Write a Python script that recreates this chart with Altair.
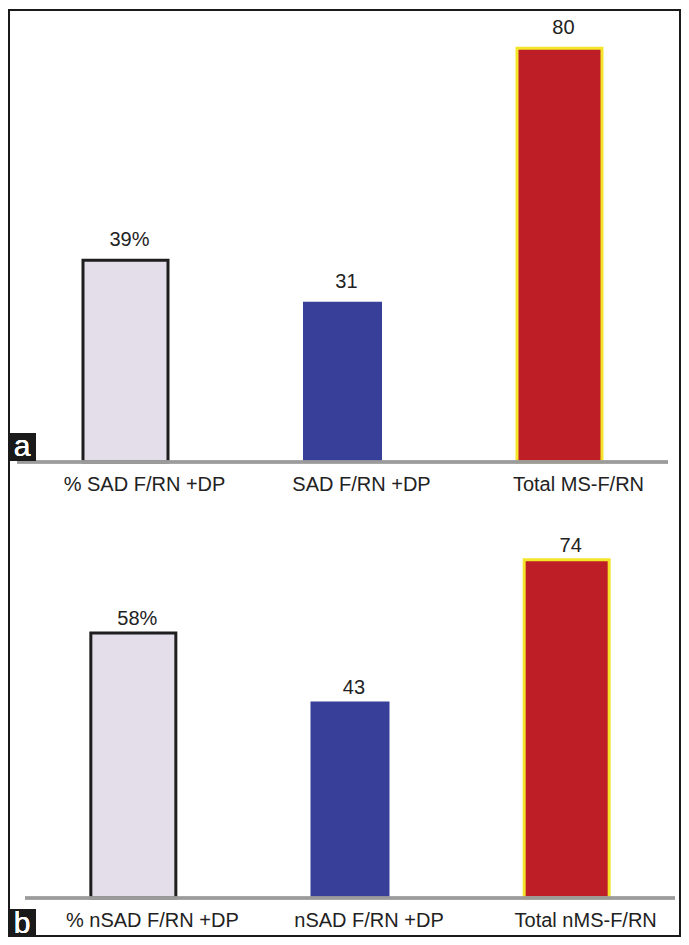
import altair as alt
import pandas as pd

# ---- data ----
cats_a = ["% SAD F/RN +DP", "SAD F/RN +DP", "Total MS-F/RN"]
vals_a = [39, 31, 80]
text_a = ["39%", "31", "80"]

cats_b = ["% nSAD F/RN +DP", "nSAD F/RN +DP", "Total nMS-F/RN"]
vals_b = [58, 43, 74]
text_b = ["58%", "43", "74"]

FILLS = ["#E3DEEA", "#373F98", "#BE1E26"]
STROKES = ["#1E1E1E", "#373F98", "#F5E52A"]
FONT = "Liberation Sans"
INK = "#222222"
W = 658
GAP = 54


def panel(cats, vals, texts, letter, height, ymax, pad_outer, align, base_x,
          fr, box, letter_pos, label_dy):
    df = pd.DataFrame({"cat": cats, "val": vals, "txt": texts})
    base = alt.Chart(df)
    x = alt.X(
        "cat:N",
        scale=alt.Scale(domain=cats, paddingInner=0, paddingOuter=pad_outer, align=align),
        axis=alt.Axis(
            title=None, ticks=False, domain=False,
            labelAngle=0, labelFont=FONT, labelFontSize=20, labelColor=INK,
            labelPadding=12, labelOffset=19,
        ),
    )
    y = alt.Y("val:Q", scale=alt.Scale(domain=[0, ymax], nice=False, zero=True), axis=None)
    fill = alt.Fill("cat:N", scale=alt.Scale(domain=cats, range=FILLS), legend=None)
    stroke = alt.Stroke("cat:N", scale=alt.Scale(domain=cats, range=STROKES), legend=None)

    outlined = base.transform_filter(alt.datum.cat != cats[1]).mark_bar(
        size=85, strokeWidth=3
    ).encode(x=x, y=y, fill=fill, stroke=stroke)
    plain = base.transform_filter(alt.datum.cat == cats[1]).mark_bar(size=79).encode(
        x=x, y=y, fill=fill
    )
    values = base.mark_text(
        font=FONT, fontSize=20, color=INK, baseline="alphabetic", dy=label_dy, dx=4
    ).encode(x=x, y=y, text="txt:N")

    baseline = base.mark_rule(color="#9B9B9B", strokeWidth=3).encode(
        x=alt.value(base_x[0]), x2=alt.value(base_x[1]), y=alt.value(height))

    left, right, top, bottom = fr
    frame_style = dict(color="#1A1A1A", strokeWidth=2)
    lines = [
        base.mark_rule(**frame_style).encode(
            x=alt.value(left), y=alt.value(top), y2=alt.value(bottom)),
        base.mark_rule(**frame_style).encode(
            x=alt.value(right), y=alt.value(top), y2=alt.value(bottom)),
    ]
    if letter == "a":
        lines.append(base.mark_rule(**frame_style).encode(
            x=alt.value(left), x2=alt.value(right), y=alt.value(top + 1)))
    else:
        lines.append(base.mark_rule(**frame_style).encode(
            x=alt.value(left), x2=alt.value(right), y=alt.value(bottom - 1)))

    bx0, bx1, by0, by1 = box
    badge = base.mark_rect(color="#1A1A1A").encode(
        x=alt.value(bx0), x2=alt.value(bx1), y=alt.value(by0), y2=alt.value(by1))
    badge_text = base.mark_text(
        font=FONT, fontSize=30, color="white", align="center", baseline="alphabetic"
    ).encode(x=alt.value(letter_pos[0]), y=alt.value(letter_pos[1]), text=alt.value(letter))

    return alt.layer(outlined, plain, values, baseline, *lines, badge, badge_text).properties(
        width=W, height=height
    )


pa = panel(cats_a, vals_a, text_a, "a", 453, 87.6, 0.01613, 0, (0, 651),
           (-8, 663, 0, 453 + GAP), (-9, 19, 424, 452), (5, 447), -14)
pb = panel(cats_b, vals_b, text_b, "b", 382, 83.6, 0.01846, 1, (8, 658),
           (-8, 663, 0, 421), (-9, 19, 393, 421), (5, 417), -8)

chart = alt.vconcat(pa, pb, spacing=GAP, bounds="flush").resolve_scale(
    x="independent", y="independent", fill="independent", stroke="independent"
).properties(padding=0).configure_view(stroke=None)

chart.save("out.html", embed_options={"renderer": "svg", "actions": False})
